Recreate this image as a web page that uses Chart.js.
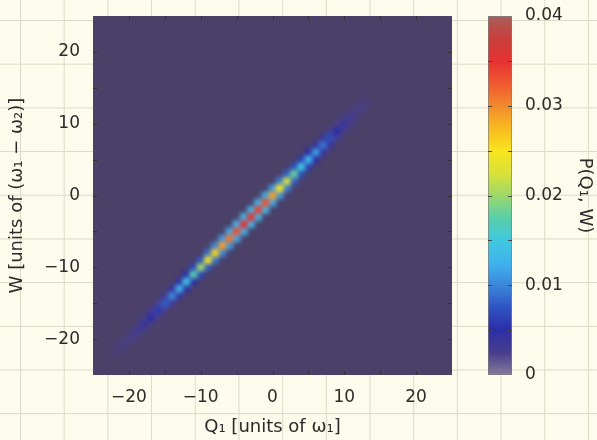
<!DOCTYPE html>
<html>
<head>
<meta charset="utf-8">
<script src="https://cdn.jsdelivr.net/npm/chart.js@4.4.1/dist/chart.umd.min.js"></script>
<style>
  html, body { margin: 0; padding: 0; }
  body {
    width: 597px; height: 440px; overflow: hidden; position: relative;
    background-color: #fdfbec;
    background-image:
      linear-gradient(to right, #dcd9c6 1px, transparent 1px),
      linear-gradient(to bottom, #dcd9c6 1px, transparent 1px);
    background-size: 43.7px 43.7px;
    background-position: 20px 20px;
  }
  #main { position: absolute; left: 0; top: 0; }
  #cbar { position: absolute; left: 470px; top: 0; }
</style>
</head>
<body>
<canvas id="main" width="470" height="440"></canvas>
<canvas id="cbar" width="127" height="440"></canvas>
<script>
// Q1 positions of the ridge (cells sit on W = Q1)
const qCells = [-22, -21, -20, -19, -18, -17, -16, -15, -14, -13, -12, -11, -10, -9, -8, -7, -6, -5,
                -4, -3, -2, -1, 0, 1, 2, 3, 4, 5, 6, 7, 8, 9, 10, 11, 12, 13];
// P on the diagonal cell (Q1, W = Q1)
const diagP = [0.001, 0.0015, 0.002, 0.003, 0.004, 0.005, 0.006, 0.008, 0.010, 0.012, 0.014, 0.017,
               0.020, 0.024, 0.026, 0.029, 0.031, 0.033, 0.035, 0.035, 0.034, 0.033, 0.029, 0.025,
               0.022, 0.018, 0.015, 0.013, 0.011, 0.009, 0.007, 0.005, 0.004, 0.003, 0.002, 0.001];
// P on the neighbouring off-diagonal cells (Q1, Q1+1) and (Q1+1, Q1)
const offP = [0.0004, 0.0006, 0.0008, 0.001, 0.0015, 0.002, 0.0023, 0.003, 0.004, 0.0045, 0.005, 0.0065,
              0.0075, 0.009, 0.010, 0.011, 0.012, 0.0125, 0.013, 0.013, 0.013, 0.012, 0.011, 0.0095,
              0.008, 0.007, 0.006, 0.005, 0.004, 0.0035, 0.0027, 0.002, 0.0015, 0.001, 0.0008, 0.0004];

const axisMin = -25, axisMax = 25;
const pMax = 0.04;

// colour stops (fraction of pMax -> colour)
const cmapStops = [0, 0.06, 0.125, 0.19, 0.25, 0.31, 0.375, 0.44, 0.5, 0.56, 0.625, 0.69, 0.75, 0.81, 0.875, 0.94, 1];
const cmapColors = ['#857b9c', '#4a3f8c', '#2c2ea6', '#2f55c4', '#3a86dc', '#3fb2ec', '#40c8e0', '#5ccfa8',
                    '#9cd86a', '#d8e23a', '#f8e41e', '#f8b820', '#f28a2e', '#f05a30', '#e53232', '#c8403c', '#a8605a'];
const zeroColor = '#4a4068';

const fontFam = "'DejaVu Sans', sans-serif";
const textColor = '#2b2b2b';

function hexRgb(h) {
  return [parseInt(h.slice(1, 3), 16), parseInt(h.slice(3, 5), 16), parseInt(h.slice(5, 7), 16)];
}

function colorFor(v, first) {
  const t = Math.max(0, Math.min(1, v / pMax));
  const cols = cmapColors.slice();
  if (first) cols[0] = first;
  let i = 0;
  while (i < cmapStops.length - 2 && t > cmapStops[i + 1]) i++;
  const f = (t - cmapStops[i]) / (cmapStops[i + 1] - cmapStops[i]);
  const a = hexRgb(cols[i]), b = hexRgb(cols[i + 1]);
  const c = a.map((x, k) => Math.round(x + (b[k] - x) * f));
  return `rgb(${c[0]},${c[1]},${c[2]})`;
}

function fmtNum(v) {
  return v < 0 ? '\u2212' + Math.abs(v) : String(v);
}

// heatmap cells
const cells = [];
qCells.forEach((q, i) => {
  cells.push({ x: q, y: q + 1, v: offP[i] });
  cells.push({ x: q + 1, y: q, v: offP[i] });
});
qCells.forEach((q, i) => {
  cells.push({ x: q, y: q, v: diagP[i] });
});

function cellPx(chart) {
  const s = chart.scales.x;
  return Math.abs(s.getPixelForValue(1) - s.getPixelForValue(0));
}

// no extra label padding, so the plot box lands where we want it
function noPad(s) {
  s.paddingTop = 0; s.paddingBottom = 0; s.paddingLeft = 0; s.paddingRight = 0;
}

// fill the plot with the zero colour
const plotBg = {
  id: 'plotBg',
  beforeDatasetsDraw(chart) {
    const { ctx, chartArea: a } = chart;
    ctx.save();
    ctx.fillStyle = zeroColor;
    ctx.fillRect(a.left, a.top, a.right - a.left, a.bottom - a.top);
    ctx.restore();
  }
};

// smooth the cells like an interpolated image
const smooth = {
  id: 'smooth',
  afterDatasetsDraw(chart) {
    const { ctx, chartArea: a, canvas } = chart;
    const m = 10;
    const w = Math.round(a.right - a.left), h = Math.round(a.bottom - a.top);
    const tmp = document.createElement('canvas');
    tmp.width = w + 2 * m; tmp.height = h + 2 * m;
    const t = tmp.getContext('2d');
    t.fillStyle = zeroColor;
    t.fillRect(0, 0, tmp.width, tmp.height);
    t.drawImage(canvas, a.left, a.top, w, h, m, m, w, h);
    ctx.save();
    ctx.beginPath();
    ctx.rect(a.left, a.top, w, h);
    ctx.clip();
    ctx.filter = 'blur(2.2px)';
    ctx.drawImage(tmp, a.left - m, a.top - m);
    ctx.restore();
  }
};

// small inward tick marks on all four sides
const inTicks = {
  id: 'inTicks',
  afterDraw(chart) {
    const { ctx, chartArea: a, scales } = chart;
    ctx.save();
    ctx.strokeStyle = '#333';
    ctx.lineWidth = 1;
    ctx.beginPath();
    scales.x.ticks.forEach(t => {
      if (t.value <= axisMin || t.value >= axisMax) return;
      const x = Math.round(scales.x.getPixelForValue(t.value)) + 0.5;
      ctx.moveTo(x, a.bottom); ctx.lineTo(x, a.bottom - 4);
      ctx.moveTo(x, a.top); ctx.lineTo(x, a.top + 4);
    });
    scales.y.ticks.forEach(t => {
      if (t.value <= axisMin || t.value >= axisMax) return;
      const y = Math.round(scales.y.getPixelForValue(t.value)) + 0.5;
      ctx.moveTo(a.left, y); ctx.lineTo(a.left + 4, y);
      ctx.moveTo(a.right, y); ctx.lineTo(a.right - 4, y);
    });
    ctx.stroke();
    ctx.restore();
  }
};

const tickFont = { family: fontFam, size: 17 };
const titleFont = { family: fontFam, size: 18 };

new Chart(document.getElementById('main'), {
  type: 'scatter',
  data: {
    datasets: [{
      data: cells,
      pointStyle: 'rect',
      pointRadius: ctx => cellPx(ctx.chart) / Math.SQRT2 + 0.4,
      pointHoverRadius: ctx => cellPx(ctx.chart) / Math.SQRT2 + 0.4,
      borderWidth: 0,
      backgroundColor: ctx => ctx.raw ? colorFor(ctx.raw.v, zeroColor) : zeroColor,
      borderColor: 'rgba(0,0,0,0)'
    }]
  },
  options: {
    responsive: false,
    animation: false,
    devicePixelRatio: 1,
    layout: { padding: { left: 0, top: 16, right: 18, bottom: 0 } },
    plugins: { legend: { display: false }, tooltip: { enabled: false } },
    scales: {
      x: {
        type: 'linear', min: axisMin, max: axisMax,
        grid: { display: false, drawTicks: false },
        border: { display: false },
        ticks: {
          stepSize: 5, autoSkip: false, maxRotation: 0, padding: 12,
          font: tickFont, color: textColor,
          callback: v => (v % 10 === 0 ? fmtNum(v) : '')
        },
        title: {
          display: true, text: 'Q\u2081 [units of \u03c9\u2081]',
          font: titleFont, color: textColor, padding: { top: 0, bottom: 2 }
        },
        afterFit: s => { s.height = 65; noPad(s); }
      },
      y: {
        type: 'linear', min: axisMin, max: axisMax,
        grid: { display: false, drawTicks: false },
        border: { display: false },
        ticks: {
          stepSize: 5, autoSkip: false, padding: 13,
          font: tickFont, color: textColor,
          callback: v => (v % 10 === 0 ? fmtNum(v) : '')
        },
        title: {
          display: true, text: 'W [units of (\u03c9\u2081 \u2212 \u03c9\u2082)]',
          font: titleFont, color: textColor, padding: { top: 7, bottom: 0 }
        },
        afterFit: s => { s.width = 93; noPad(s); }
      }
    }
  },
  plugins: [plotBg, smooth, inTicks]
});

// colour bar
const cbarTicks = {
  id: 'cbarTicks',
  afterDatasetsDraw(chart) {
    const { ctx, chartArea: a, scales } = chart;
    ctx.save();
    ctx.strokeStyle = '#444';
    ctx.lineWidth = 1;
    ctx.beginPath();
    scales.y.ticks.forEach(t => {
      if (t.value <= 0 || t.value >= pMax - 1e-9) return;
      const y = Math.round(scales.y.getPixelForValue(t.value)) + 0.5;
      ctx.moveTo(a.left, y); ctx.lineTo(a.left + 4, y);
      ctx.moveTo(a.right, y); ctx.lineTo(a.right - 4, y);
    });
    ctx.stroke();
    ctx.restore();
  }
};

new Chart(document.getElementById('cbar'), {
  type: 'bar',
  data: {
    labels: [''],
    datasets: [{
      data: [pMax],
      backgroundColor: ctx => {
        const a = ctx.chart.chartArea;
        if (!a) return '#888';
        const g = ctx.chart.ctx.createLinearGradient(0, a.bottom, 0, a.top);
        cmapStops.forEach((s, i) => g.addColorStop(s, cmapColors[i]));
        return g;
      },
      borderColor: '#7d7d7d',
      borderWidth: 1,
      borderSkipped: false,
      barPercentage: 1,
      categoryPercentage: 1
    }]
  },
  options: {
    responsive: false,
    animation: false,
    devicePixelRatio: 1,
    layout: { padding: { left: 18, top: 16, right: 0, bottom: 65 } },
    plugins: { legend: { display: false }, tooltip: { enabled: false } },
    scales: {
      x: { display: false },
      y: {
        position: 'right', min: 0, max: pMax,
        grid: { display: false, drawTicks: false },
        border: { display: false },
        ticks: {
          stepSize: 0.005, autoSkip: false, padding: 13,
          font: tickFont, color: textColor,
          callback: v => {
            const k = Math.round(v * 1000);
            if (k % 10 !== 0) return '';
            return k === 0 ? '0' : (k / 1000).toFixed(2);
          }
        },
        title: {
          display: true, text: 'P(Q\u2081, W)',
          font: titleFont, color: textColor, padding: { top: 2, bottom: 0 }
        },
        afterFit: s => { s.width = 85; noPad(s); }
      }
    }
  },
  plugins: [cbarTicks]
});
</script>
</body>
</html>
